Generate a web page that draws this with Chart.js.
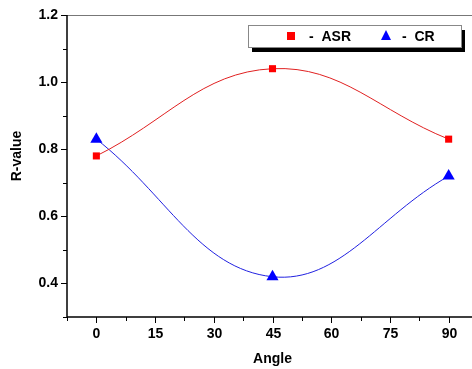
<!DOCTYPE html>
<html>
<head>
<meta charset="utf-8">
<script src="https://cdn.jsdelivr.net/npm/chart.js@4.4.1/dist/chart.umd.min.js"></script>
<style>
  html, body { margin:0; padding:0; background:#fff; overflow:hidden; }
  #wrap { width:490px; height:369px; }
</style>
</head>
<body>
<div id="wrap"><canvas id="chart" width="490" height="369"></canvas></div>
<script>
const angles = [0, 45, 90];
const asrValues = [0.78, 1.04, 0.83];
const crValues = [0.83, 0.42, 0.72];
const xTicks = [0, 15, 30, 45, 60, 75, 90];
const yTicks = [0.4, 0.6, 0.8, 1.0, 1.2];

const red = "#ff0000";
const blue = "#0000ff";
const font = "bold 14px 'Liberation Sans', Arial, sans-serif";

const toPoints = vals => angles.map((a, i) => ({x: a, y: vals[i]}));

// axes, ticks, titles and the boxed legend
const frame = {
  id: "frame",
  afterDraw(chart) {
    const {ctx, chartArea: a, scales: {x, y}} = chart;
    ctx.save();
    ctx.strokeStyle = "#777";
    ctx.lineWidth = 1;
    ctx.beginPath(); ctx.moveTo(a.left, a.top + 0.5); ctx.lineTo(a.right, a.top + 0.5); ctx.stroke();
    ctx.strokeStyle = "#000";
    ctx.lineWidth = 1.5;
    ctx.beginPath();
    ctx.moveTo(a.left, a.top); ctx.lineTo(a.left, a.bottom); ctx.lineTo(a.right, a.bottom);
    ctx.stroke();

    ctx.lineWidth = 1;
    ctx.fillStyle = "#000";
    ctx.font = font;
    // x ticks: major every 15, minor between
    ctx.textAlign = "center"; ctx.textBaseline = "middle";
    for (let v = -7.5; v <= 97.5; v += 7.5) {
      const px = Math.round(x.getPixelForValue(v)) + 0.5;
      const major = xTicks.includes(v);
      ctx.beginPath(); ctx.moveTo(px, a.bottom); ctx.lineTo(px, a.bottom + (major ? 6 : 4)); ctx.stroke();
      if (major) ctx.fillText(String(v), px, a.bottom + 17);
    }
    // y ticks: major every 0.2, minor between
    ctx.textAlign = "right";
    for (let k = 3; k <= 12; k++) {
      const v = k / 10;
      const py = Math.round(y.getPixelForValue(v)) + 0.5;
      const major = k % 2 === 0;
      ctx.beginPath(); ctx.moveTo(a.left, py); ctx.lineTo(a.left - (major ? 6 : 4), py); ctx.stroke();
      if (major) ctx.fillText(v.toFixed(1), a.left - 9, py);
    }

    ctx.textAlign = "center";
    ctx.fillText("Angle", (a.left + a.right) / 2, 359);
    ctx.save();
    ctx.translate(17, 156);
    ctx.rotate(-Math.PI / 2);
    ctx.fillText("R-value", 0, 0);
    ctx.restore();

    // legend
    const lx = 248, ly = 25, lw = 213, lh = 22;
    ctx.fillStyle = "#000";
    ctx.fillRect(lx + 4, ly + 5, lw, lh);
    ctx.fillStyle = "#fff";
    ctx.fillRect(lx, ly, lw, lh);
    ctx.strokeStyle = "#888";
    ctx.strokeRect(lx + 0.5, ly + 0.5, lw, lh);
    ctx.fillStyle = red;
    ctx.fillRect(287, 32, 8, 8);
    ctx.fillStyle = blue;
    ctx.beginPath(); ctx.moveTo(386, 30); ctx.lineTo(391, 40); ctx.lineTo(381, 40); ctx.closePath(); ctx.fill();
    ctx.fillStyle = "#000";
    ctx.textAlign = "left";
    ctx.fillText("-  ASR", 309, 37);
    ctx.fillText("-  CR", 402, 37);
    ctx.restore();
  }
};

new Chart(document.getElementById("chart"), {
  type: "line",
  data: {
    datasets: [
      {label: "ASR", data: toPoints(asrValues), borderColor: "#e02020", borderWidth: 1, tension: 0.4,
       pointStyle: "rect", pointRadius: 5, pointBackgroundColor: red, pointBorderColor: red, pointBorderWidth: 0},
      {label: "CR", data: toPoints(crValues), borderColor: "#2020e0", borderWidth: 1, tension: 0.4,
       pointStyle: "triangle", pointRadius: 7, pointBackgroundColor: blue, pointBorderColor: blue, pointBorderWidth: 0}
    ]
  },
  options: {
    responsive: false,
    animation: false,
    layout: {padding: {top: 15, right: 12, left: 0, bottom: 0}},
    plugins: {legend: {display: false}, tooltip: {enabled: false}},
    scales: {
      x: {type: "linear", min: -7.5, max: 97.5, grid: {display: false}, border: {display: false},
          ticks: {display: false}, afterFit: s => { s.height = 52; }},
      y: {min: 0.3, max: 1.2, grid: {display: false}, border: {display: false},
          ticks: {display: false}, afterFit: s => { s.width = 67; }}
    }
  },
  plugins: [frame]
});
</script>
</body>
</html>
